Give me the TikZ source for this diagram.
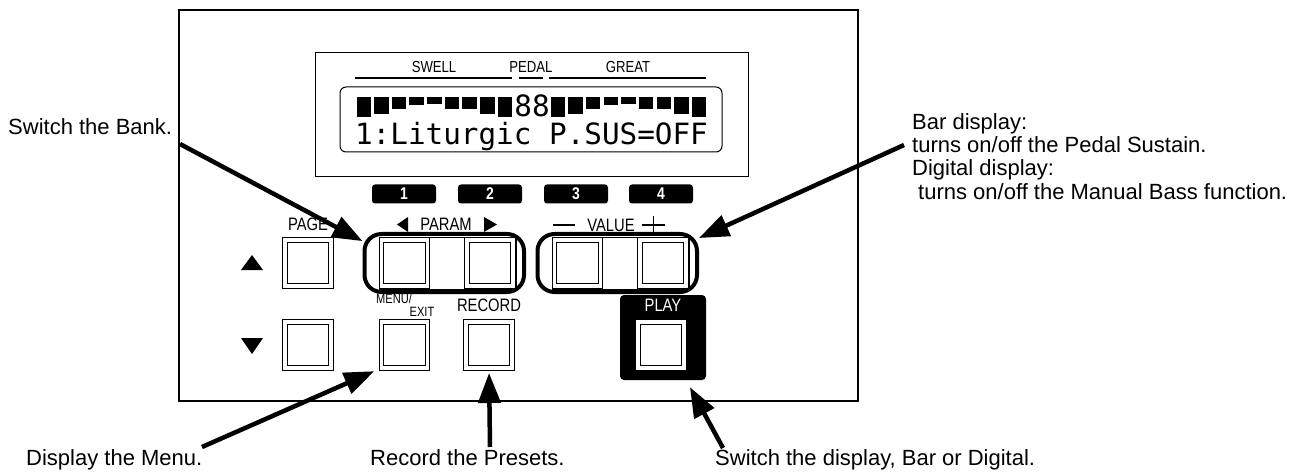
\documentclass[tikz,border=0pt]{standalone}
\usepackage{fontspec}
\setmainfont{Liberation Sans}
\newfontfamily\condfont[FakeStretch=0.82]{Liberation Sans}
\newfontfamily\lcdfont{DejaVu Sans Mono}
\usetikzlibrary{arrows.meta,positioning,calc,fit}

\begin{document}
\begin{tikzpicture}[x=1pt, y=-1pt,
    note/.style={font=\fontsize{22}{23.4}\selectfont, inner sep=0pt},
    plabel/.style={font=\condfont\fontsize{18}{18}\selectfont, inner sep=0pt},
    hdlabel/.style={font=\condfont\fontsize{16}{16}\selectfont, inner sep=0pt},
    lcd/.style={font=\lcdfont\fontsize{29.3}{30}\selectfont, inner sep=0pt, anchor=base},
    keytag/.style={fill=black, rounded corners=3pt, minimum width=64pt, minimum height=19pt, inner sep=0pt, text=white, font=\condfont\bfseries\fontsize{17}{17}\selectfont},
    btn/.style={draw, double, double distance=3.6pt, line width=0.9pt, minimum size=46pt, inner sep=0pt, outer sep=0pt},
    ring/.style={draw, line width=4pt, rounded corners=17pt, inner xsep=14pt, inner ysep=6pt, xshift=-3pt},
    callout/.style={-{Triangle[length=30pt,width=22pt]}, line width=4.5pt}
  ]
  \useasboundingbox (0,0) rectangle (1304,473);

  % panel, display frame and LCD
  \draw[line width=1.3pt] (179,10) rectangle (858,401);
  \draw[line width=1pt] (315,53) rectangle (748,177);
  \draw[line width=1pt, rounded corners=6pt] (340,87) rectangle (722,152);
  \node[hdlabel] (swell) at (434,67) {SWELL};
  \node[hdlabel] (pedal) at (531,67) {PEDAL};
  \node[hdlabel] (great) at (628,67) {GREAT};
  \draw[line width=2pt] (355,78) -- (512,78) (519,78) -- (543,78) (549,78) -- (706,78);
  \foreach \i/\h in {0/20,1/17,2/12,3/8,4/7,5/12,6/12,7/17,8/20,11/20,12/17,13/12,14/8,15/7,16/12,17/12,18/17,19/20}
    \fill (356.5+\i*17.65,97) rectangle ++(14.5,\h);
  \node[lcd] (pedalbars) at (532,117) {88};
  \node[lcd] (lcdline) at (531.5,145) {1:Liturgic P.SUS=OFF};

  % number keys
  \foreach \n/\x in {1/404,2/490,3/576,4/661}
    \node[keytag] (key\n) at (\x,194) {\n};

  % labels over the buttons
  \node[plabel] (pagelbl) at (308,224) {PAGE};
  \node[plabel] (paramlbl) at (446,224) {PARAM};
  \node[plabel] (valuelbl) at (611,225) {VALUE};
  \fill (408,217) -- (408,232) -- (397,224.5) -- cycle;
  \fill (484,217) -- (484,232) -- (497,224.5) -- cycle;
  \draw[line width=1.8pt] (553,225) -- (575,225);
  \draw[line width=1.8pt] (642,225) -- (665,225) (653.5,216) -- (653.5,235);

  % buttons
  \draw[line width=0.8pt] (379,237.5) rectangle (516,289);
  \draw[line width=0.8pt] (552,237.5) rectangle (689,289);
  \node[btn] (page) at (308,263) {};
  \node[btn] (par1) at (404.5,263) {};
  \node[btn] (par2) at (490,263) {};
  \node[btn] (val1) at (577.5,263) {};
  \node[btn] (val2) at (663,263) {};
  \node[ring, fit=(par1)(par2)] (paramring) {};
  \node[ring, fit=(val1)(val2)] (valring) {};
  \fill (241,270) -- (263,270) -- (252,255) -- cycle;

  \node[plabel, font=\condfont\fontsize{13.5}{13.5}\selectfont] (menulbl) at (394,299) {MENU/};
  \node[plabel, font=\condfont\fontsize{13.5}{13.5}\selectfont] (exitlbl) at (422,312) {EXIT};
  \node[plabel] (reclbl) at (489,305) {RECORD};
  \node[btn] (down) at (308,345) {};
  \node[btn] (menu) at (404.5,345) {};
  \node[btn] (record) at (489,345) {};
  \fill (241,338) -- (263,338) -- (252,354) -- cycle;

  \node[fill=black, rounded corners=4pt, minimum width=86pt, minimum height=85pt, inner sep=0pt] (playblk) at (663,337.5) {};
  \node[plabel, text=white] (playlbl) at (663,305) {PLAY};
  \node[fill=white, minimum size=50pt, inner sep=0pt] (play) at (661,345) {};
  \node[draw, line width=1pt, minimum size=41pt, inner sep=0pt] (playin) at (play) {};

  % notes and arrows
  \node[note, anchor=west] (banknote) at (8,127) {Switch the Bank.};
  \node[note, anchor=north west, align=left] (barnote) at (912,113)
    {Bar display:\\turns on/off the Pedal Sustain.\\Digital display:\\\hspace*{6pt}turns on/off the Manual Bass function.};
  \node[note, anchor=base west] (menunote) at (26,465) {Display the Menu.};
  \node[note, anchor=base west] (recnote) at (370,465) {Record the Presets.};
  \node[note, anchor=base west] (playnote) at (715,465) {Switch the display, Bar or Digital.};

  \coordinate (banktail) at (180,144);
  \coordinate (bartail) at (904,145);
  \coordinate (menutail) at (202,447);
  \coordinate (rectail) at (490,447);
  \coordinate (playtail) at (723,448);
  \draw[callout] (banktail) -- (paramring.165);
  \draw[callout] (bartail) -- (valring.17);
  \draw[callout, shorten >=8pt] (menutail) -- (menu.south west);
  \draw[callout, shorten >=5pt] (rectail) -- (record.south);
  \draw[callout, shorten >=8pt] (playtail) -- (playblk);
\end{tikzpicture}
\end{document}
